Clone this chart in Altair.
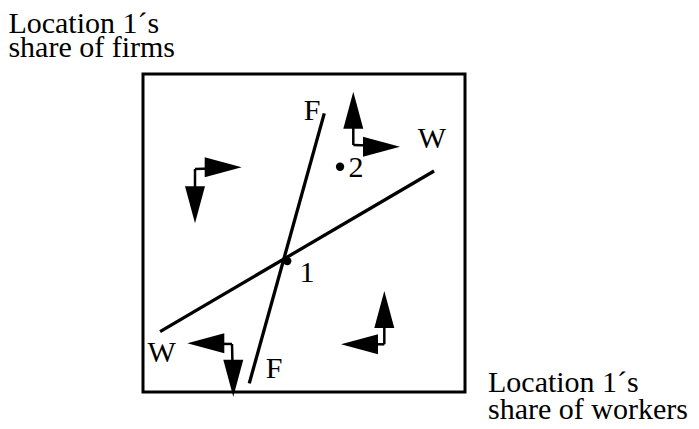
import altair as alt
import pandas as pd

# Curves (F: firms locus, W: workers locus), endpoints in share units
curve_names = ["F", "W"]
curve_x1 = [0.330, 0.053]
curve_y1 = [0.027, 0.190]
curve_x2 = [0.563, 0.904]
curve_y2 = [0.876, 0.695]

# Equilibrium points
eq_names = ["1", "2"]
eq_x = [0.448, 0.612]
eq_y = [0.412, 0.7085]

# Labels (text, centre x, baseline y)
lab_text = ["F", "W", "2", "1", "W", "F"]
lab_x = [0.525, 0.8975, 0.6615, 0.509, 0.058, 0.407]
lab_y = [0.855, 0.766, 0.677, 0.347, 0.0953, 0.043]

# Direction arrows: corner of each L and the tip of each arrow
arr_cx = [0.1615, 0.1615, 0.6531, 0.6531, 0.2764, 0.2764, 0.7494, 0.7494]
arr_cy = [0.7013, 0.7013, 0.7767, 0.7767, 0.1509, 0.1509, 0.1500, 0.1500]
arr_tx = [0.3065, 0.1615, 0.6531, 0.7981, 0.1376, 0.2804, 0.7494, 0.6149]
arr_ty = [0.7066, 0.5305, 0.9443, 0.7714, 0.1531, -0.0148, 0.3176, 0.1500]
arr_dir = ["right", "down", "up", "right", "left", "down", "up", "left"]

# Outer captions (two lines each) with left x and first-line baseline y
ylab_lines = ["Location 1´s", "share of firms"]
xlab_lines = ["Location 1´s", "share of workers"]
ylab_pos = [-0.418, 1.130]
xlab_pos = [1.0714, 0.000]

FONT = "Liberation Serif"

xs = alt.Scale(domain=[0, 1], nice=False, zero=False)
ys = alt.Scale(domain=[0, 1], nice=False, zero=False)

curves = pd.DataFrame({"name": curve_names, "x": curve_x1, "y": curve_y1,
                       "x2": curve_x2, "y2": curve_y2})
eqs = pd.DataFrame({"name": eq_names, "x": eq_x, "y": eq_y})
labs = pd.DataFrame({"t": lab_text, "x": lab_x, "y": lab_y})
angle_of = {"up": 0, "right": 90, "down": 180, "left": 270}
arrows = pd.DataFrame({"cx": arr_cx, "cy": arr_cy, "tx": arr_tx, "ty": arr_ty,
                       "dir": arr_dir})
arrows["angle"] = arrows["dir"].map(angle_of)
arrows["mx"] = (arrows["cx"] + arrows["tx"]) / 2
arrows["my"] = (arrows["cy"] + arrows["ty"]) / 2

X = lambda f: alt.X(f, scale=xs, axis=None)
Y = lambda f: alt.Y(f, scale=ys, axis=None)

curve_layer = alt.Chart(curves).mark_rule(color="black", strokeWidth=3.3).encode(
    x=X("x:Q"), y=Y("y:Q"), x2="x2:Q", y2="y2:Q")

eq_layer = alt.Chart(eqs).mark_point(filled=True, color="black", size=70, opacity=1).encode(
    x=X("x:Q"), y=Y("y:Q"))

lab_layer = alt.Chart(labs).mark_text(font=FONT, fontSize=30, color="black",
                                      align="center", baseline="alphabetic").encode(
    x=X("x:Q"), y=Y("y:Q"), text="t:N")

stem_layer = alt.Chart(arrows).mark_rule(color="black", strokeWidth=2.5).encode(
    x=X("cx:Q"), y=Y("cy:Q"), x2="mx:Q", y2="my:Q")

head_layer = alt.Chart(arrows).mark_point(
    shape="M0,0L0.27,1L-0.27,1Z", filled=True, color="black", size=5476, opacity=1
).encode(
    x=X("tx:Q"), y=Y("ty:Q"), angle=alt.Angle("angle:Q", scale=None))

ycap = alt.Chart(pd.DataFrame({"x": [ylab_pos[0]], "y": [ylab_pos[1]]})).mark_text(
    text=ylab_lines, font=FONT, fontSize=30, lineHeight=24, color="black",
    align="left", baseline="alphabetic").encode(x=X("x:Q"), y=Y("y:Q"))

xcap = alt.Chart(pd.DataFrame({"x": [xlab_pos[0]], "y": [xlab_pos[1]]})).mark_text(
    text=xlab_lines, font=FONT, fontSize=30, lineHeight=27, color="black",
    align="left", baseline="alphabetic").encode(x=X("x:Q"), y=Y("y:Q"))

chart = alt.layer(curve_layer, stem_layer, head_layer, eq_layer, lab_layer, ycap, xcap).properties(
    width=322, height=318,
    autosize=alt.AutoSizeParams(type="none"),
    padding={"left": 135, "top": 66, "right": 226, "bottom": 29},
    background="white",
).configure_view(stroke="black", strokeWidth=3)

chart.save("out.html", embed_options={"renderer": "svg", "actions": False})
